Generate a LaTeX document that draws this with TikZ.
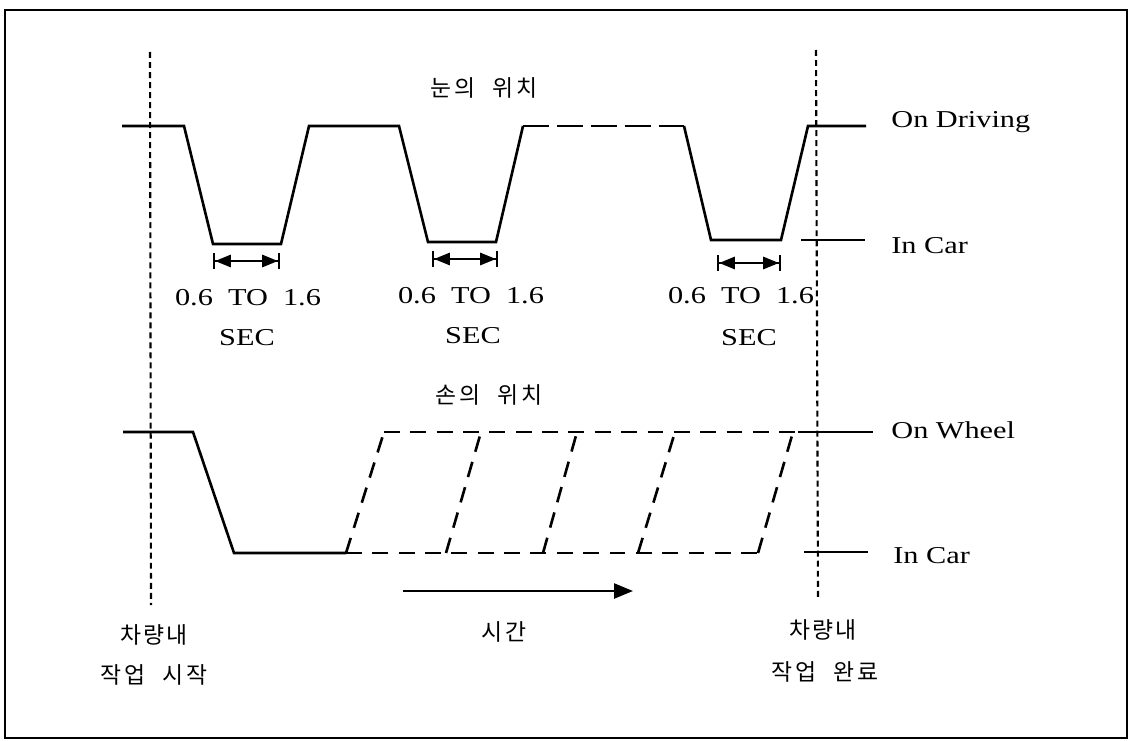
\documentclass[tikz,border=0pt]{standalone}
\usepackage{fontspec}
\setmainfont[FakeStretch=1.25]{Liberation Serif}
\newfontfamily\kr[LetterSpace=10, WordSpace=2.4]{Noto Sans CJK KR}
\usetikzlibrary{arrows.meta}
\begin{document}
\begin{tikzpicture}[x=0.02cm, y=-0.02cm,
  trace/.style={line width=1.5pt},
  guide/.style={line width=1.2pt, dash pattern=on 3.4pt off 2.3pt},
  lbl/.style={inner sep=0pt, font=\fontsize{13.8}{16}\selectfont},
  krlbl/.style={inner sep=0pt, font=\kr\fontsize{13}{15}\selectfont},
  span/.style={line width=1.2pt, {Bar[width=9pt]Triangle[length=9pt,width=7pt]}-{Triangle[length=9pt,width=7pt]Bar[width=9pt]}}]
\useasboundingbox (0,0) rectangle (1131,740);
\draw[line width=1pt] (5,10) rectangle (1127,738);

% Start and end of the task
\draw[guide] (150,52) -- (151,605);
\draw[guide] (816,50) -- (818,598);

% Eye position
\node[krlbl] (eye) at (484,88) {눈의 위치};
\draw[trace] (122,126) -- (184,126) -- (213,244) -- (281,244) -- (309,126) -- (399,126)
  -- (428,242) -- (496,242) -- (523,126);
\draw[trace, dash pattern=on 14.8pt off 4.5pt] (523,126) -- (684,126);
\draw[trace] (684,126) -- (711,240) -- (781,240) -- (808,126) -- (866,126);
\draw[trace] (801,240) -- (865,240);

% Glance durations
\draw[span] (213,261) -- (280,261);
\draw[span] (432,259) -- (498,259);
\draw[span] (717,263) -- (781,263);
\node[lbl, anchor=base] (t1) at (248,305) {0.6\ \ TO\ \ 1.6};
\node[lbl, anchor=base] (t2) at (471,303) {0.6\ \ TO\ \ 1.6};
\node[lbl, anchor=base] (t3) at (741,303) {0.6\ \ TO\ \ 1.6};
\node[lbl, anchor=base] (s1) at (247,345) {SEC};
\node[lbl, anchor=base] (s2) at (473,343) {SEC};
\node[lbl, anchor=base] (s3) at (749,345) {SEC};

% Hand position
\node[krlbl] (hand) at (489,395) {손의 위치};
\draw[trace] (123,432) -- (193,432) -- (234,553) -- (346,553);
\begin{scope}[trace, dash pattern=on 9pt off 6pt]
\draw (346,553) -- (758,553);
\draw (384,432) -- (798,432);
\foreach \b/\t in {346/384, 446/481, 543/577, 638/675, 758/793}
  \draw (\b,553) -- (\t,432);
\end{scope}
\draw[trace] (798,432) -- (873,432);
\draw[trace] (804,552) -- (868,552);

% Levels
\node[lbl, anchor=base west] (drive) at (891,127) {On\ Driving};
\node[lbl, anchor=base west] (car1) at (891,253) {In\ Car};
\node[lbl, anchor=base west] (wheel) at (891,438) {On\ Wheel};
\node[lbl, anchor=base west] (car2) at (893,563) {In\ Car};

% Time axis
\coordinate (tA) at (403,591);
\coordinate (tB) at (633,591);
\draw[line width=1.5pt, -{Triangle[length=10.8pt,width=8.5pt]}] (tA) -- (tB);
\node[krlbl] (time) at (504,632) {시간};

% Bottom labels
\node[krlbl] (startA) at (154,635) {차량내};
\node[krlbl] (startB) at (154,675) {작업 시작};
\node[krlbl] (endA) at (823,630) {차량내};
\node[krlbl] (endB) at (825,672) {작업 완료};
\end{tikzpicture}
\end{document}
